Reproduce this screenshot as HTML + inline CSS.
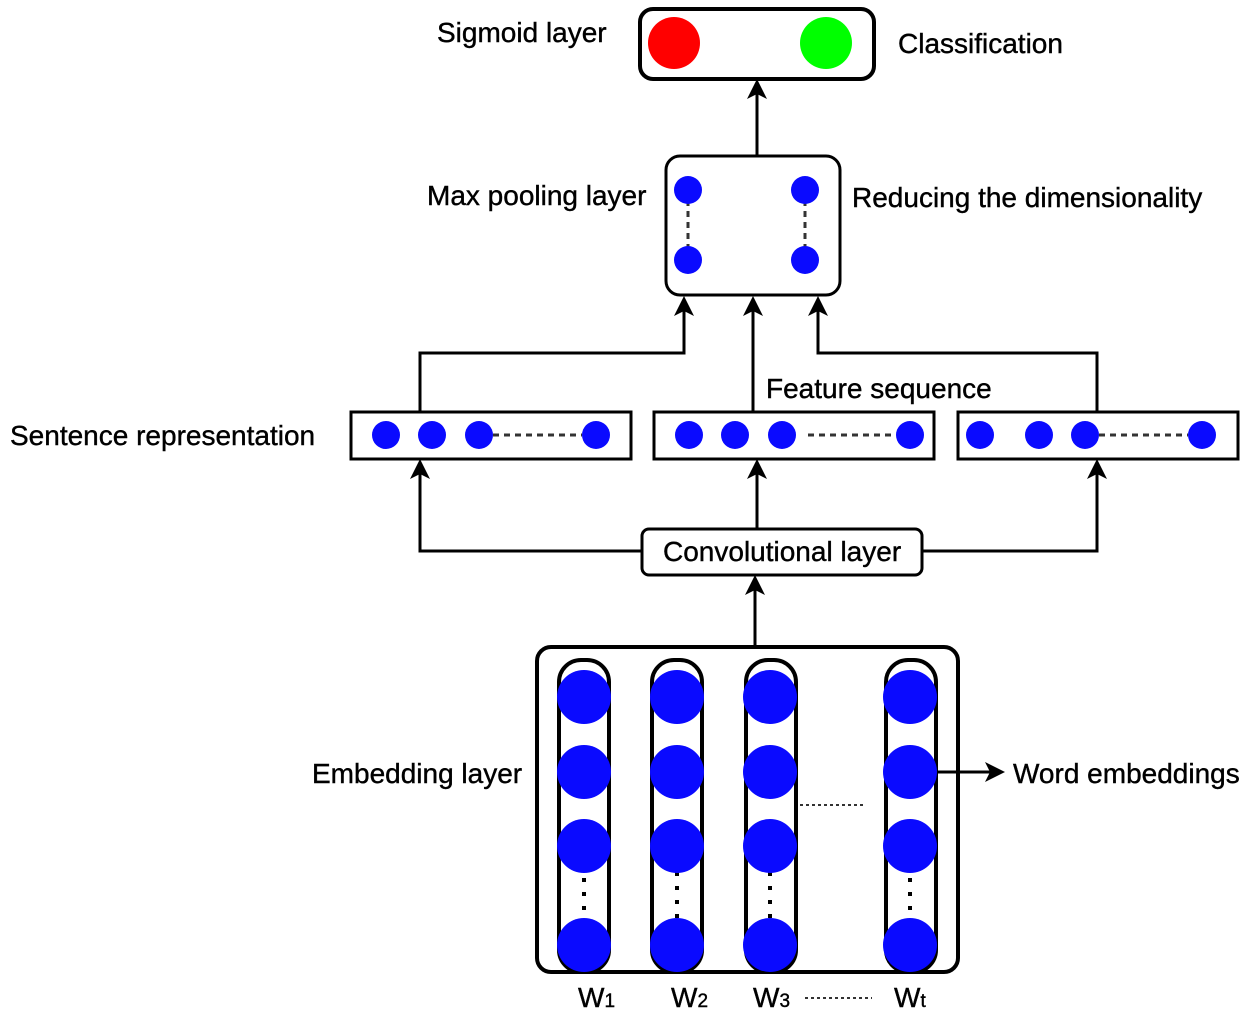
<!DOCTYPE html>
<html><head><meta charset="utf-8"><style>
html,body{margin:0;padding:0;background:#fff;}
svg{display:block;}
text{font-family:"Liberation Sans",Arial,sans-serif;font-size:28px;fill:#000;stroke:#000;stroke-width:0.4px;}
</style></head><body>
<svg width="1250" height="1017" viewBox="0 0 1250 1017" xmlns="http://www.w3.org/2000/svg">
<g fill="none" stroke="#000" stroke-width="3">
<rect x="640" y="9" width="234" height="70" rx="13" stroke-width="4"/>
<rect x="666" y="156" width="174" height="139" rx="14"/>
<rect x="351" y="412" width="280" height="47"/>
<rect x="654" y="412" width="280" height="47"/>
<rect x="958" y="412" width="280" height="47"/>
<rect x="642" y="529" width="280" height="46" rx="7"/>
<rect x="537" y="647" width="421" height="325" rx="14" stroke-width="4"/>
<rect x="559" y="660" width="50" height="312" rx="22" stroke-width="4"/>
<rect x="652" y="660" width="50" height="312" rx="22" stroke-width="4"/>
<rect x="746" y="660" width="50" height="312" rx="22" stroke-width="4"/>
<rect x="886" y="660" width="50" height="312" rx="22" stroke-width="4"/>
<path d="M757 155 V88"/>
<path d="M420 411 V353 H684 V306"/>
<path d="M753 411 V306"/>
<path d="M1097 411 V353 H818 V306"/>
<path d="M757 528 V468"/>
<path d="M641 551 H420 V468"/>
<path d="M922 551 H1097 V468"/>
<path d="M755 646 V585"/>
<path d="M936 772 H992"/>
</g>
<g fill="#000">
<path d="M757 79 l-10 20 l10 -5 l10 5z"/>
<path d="M684 296 l-10 20 l10 -5 l10 5z"/>
<path d="M753 296 l-10 20 l10 -5 l10 5z"/>
<path d="M818 296 l-10 20 l10 -5 l10 5z"/>
<path d="M757 459 l-10 20 l10 -5 l10 5z"/>
<path d="M420 459 l-10 20 l10 -5 l10 5z"/>
<path d="M1097 459 l-10 20 l10 -5 l10 5z"/>
<path d="M755 575 l-10 20 l10 -5 l10 5z"/>
<path d="M1005 772 l-20 -10 l5 10 l-5 10z"/>
</g>
<g stroke="#333" stroke-width="3" stroke-dasharray="6,5" fill="none">
<path d="M688 200 V250"/><path d="M805 200 V250"/>
<path d="M493 435 H582"/><path d="M808 435 H896"/><path d="M1099 435 H1188"/>
</g>
<g stroke="#000" stroke-width="4" stroke-dasharray="4,10" fill="none">
<path d="M584 878 V920"/><path d="M677 872 V920"/><path d="M770 872 V930"/><path d="M910 878 V920"/>
</g>
<g stroke="#333" stroke-width="2" stroke-dasharray="3,3" fill="none">
<path d="M800 805 H866"/><path d="M805 998 H872"/>
</g>
<circle cx="674" cy="43" r="26" fill="#ff0000"/>
<circle cx="826" cy="43" r="26" fill="#00ff00"/>
<g fill="#0a0aff">
<circle cx="688" cy="190" r="14"/><circle cx="688" cy="260" r="14"/>
<circle cx="805" cy="190" r="14"/><circle cx="805" cy="260" r="14"/>
<circle cx="386" cy="435" r="14"/><circle cx="432" cy="435" r="14"/><circle cx="479" cy="435" r="14"/><circle cx="596" cy="435" r="14"/>
<circle cx="689" cy="435" r="14"/><circle cx="735" cy="435" r="14"/><circle cx="782" cy="435" r="14"/><circle cx="910" cy="435" r="14"/>
<circle cx="980" cy="435" r="14"/><circle cx="1039" cy="435" r="14"/><circle cx="1085" cy="435" r="14"/><circle cx="1202" cy="435" r="14"/>
<circle cx="584" cy="697" r="27"/><circle cx="584" cy="772" r="27"/><circle cx="584" cy="846" r="27"/><circle cx="584" cy="945" r="27"/>
<circle cx="677" cy="697" r="27"/><circle cx="677" cy="772" r="27"/><circle cx="677" cy="846" r="27"/><circle cx="677" cy="945" r="27"/>
<circle cx="770" cy="697" r="27"/><circle cx="770" cy="772" r="27"/><circle cx="770" cy="846" r="27"/><circle cx="770" cy="945" r="27"/>
<circle cx="910" cy="697" r="27"/><circle cx="910" cy="772" r="27"/><circle cx="910" cy="846" r="27"/><circle cx="910" cy="945" r="27"/>
</g>
<text x="437" y="42">Sigmoid layer</text>
<text x="898" y="53">Classification</text>
<text x="427" y="205">Max pooling layer</text>
<text x="852" y="207">Reducing the dimensionality</text>
<text x="766" y="398">Feature sequence</text>
<text x="10" y="445">Sentence representation</text>
<text x="663" y="561">Convolutional layer</text>
<text x="312" y="783">Embedding layer</text>
<text x="1013" y="783">Word embeddings</text>
<text x="578" y="1007">W<tspan font-size="19">1</tspan></text>
<text x="671" y="1007">W<tspan font-size="19">2</tspan></text>
<text x="753" y="1007">W<tspan font-size="19">3</tspan></text>
<text x="894" y="1007">W<tspan font-size="19">t</tspan></text>
</svg>
</body></html>
